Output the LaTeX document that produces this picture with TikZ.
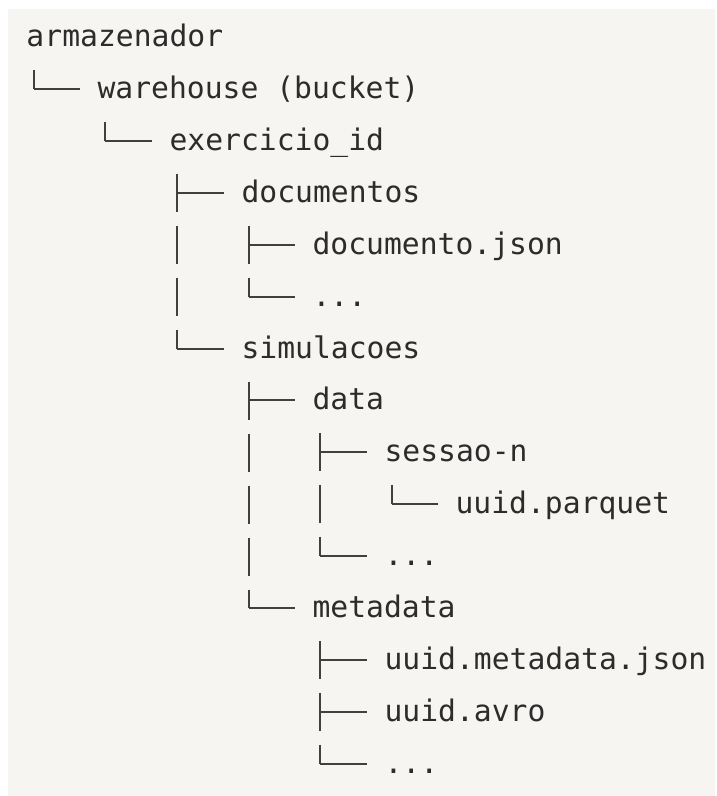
\documentclass[tikz,border=0pt]{standalone}
\usepackage{fontspec}
\setmonofont{DejaVu Sans Mono}
\definecolor{panel}{HTML}{F6F5F1}
\definecolor{ink}{HTML}{2C2C2C}
\definecolor{rule}{HTML}{404040}
\tikzset{
  entry/.style={anchor=west, inner sep=0pt, text height=19pt, text depth=0pt,
    text=ink, font=\ttfamily\fontsize{29.7}{30}\selectfont},
  stem/.style={draw=rule, line width=2pt, dash pattern=on 38pt off 13.9pt},
  arm/.style={draw=rule, line width=2pt},
}
% vertical trunk below a folder, down to its last child
\newcommand\trunk[2]{\draw[stem] ([xshift=7.7pt,yshift=-32.9pt]#1.west) -- ([xshift=7.7pt]#1.west |- #2.west);}
% horizontal arm from the trunk to one child
\newcommand\arm[2]{\draw[arm] ([xshift=7.7pt]#1.west |- #2.west) -- ([xshift=-17.6pt]#2.west);}
\begin{document}
\begin{tikzpicture}[x=1pt,y=-1pt]
  \useasboundingbox (0,0) rectangle (716,796);
  \fill[white] (0,0) rectangle (716,796);
  \fill[panel] (8,9) rectangle (715,796);

  % entries: column start x, row centre y
  \node[entry] (root)       at (26.3,37)   {armazenador};
  \node[entry] (warehouse)  at (97.3,89)   {warehouse (bucket)};
  \node[entry] (exercicio)  at (169.3,141) {exercicio\_id};
  \node[entry] (documentos) at (241.3,193) {documentos};
  \node[entry] (docjson)    at (312.3,245) {documento.json};
  \node[entry] (docmore)    at (312.3,297) {...};
  \node[entry] (simulacoes) at (241.3,349) {simulacoes};
  \node[entry] (data)       at (312.3,400) {data};
  \node[entry] (sessao)     at (384.3,452) {sessao-n};
  \node[entry] (parquet)    at (455.3,504) {uuid.parquet};
  \node[entry] (datamore)   at (384.3,556) {...};
  \node[entry] (metadata)   at (312.3,608) {metadata};
  \node[entry] (metajson)   at (384.3,660) {uuid.metadata.json};
  \node[entry] (avro)       at (384.3,712) {uuid.avro};
  \node[entry] (metamore)   at (384.3,764) {...};

  % tree lines
  \trunk{root}{warehouse}       \arm{root}{warehouse}
  \trunk{warehouse}{exercicio}  \arm{warehouse}{exercicio}
  \trunk{exercicio}{simulacoes}
  \arm{exercicio}{documentos}   \arm{exercicio}{simulacoes}
  \trunk{documentos}{docmore}
  \arm{documentos}{docjson}     \arm{documentos}{docmore}
  \trunk{simulacoes}{metadata}
  \arm{simulacoes}{data}        \arm{simulacoes}{metadata}
  \trunk{data}{datamore}
  \arm{data}{sessao}            \arm{data}{datamore}
  \trunk{sessao}{parquet}       \arm{sessao}{parquet}
  \trunk{metadata}{metamore}
  \arm{metadata}{metajson}      \arm{metadata}{avro}
  \arm{metadata}{metamore}
\end{tikzpicture}
\end{document}
